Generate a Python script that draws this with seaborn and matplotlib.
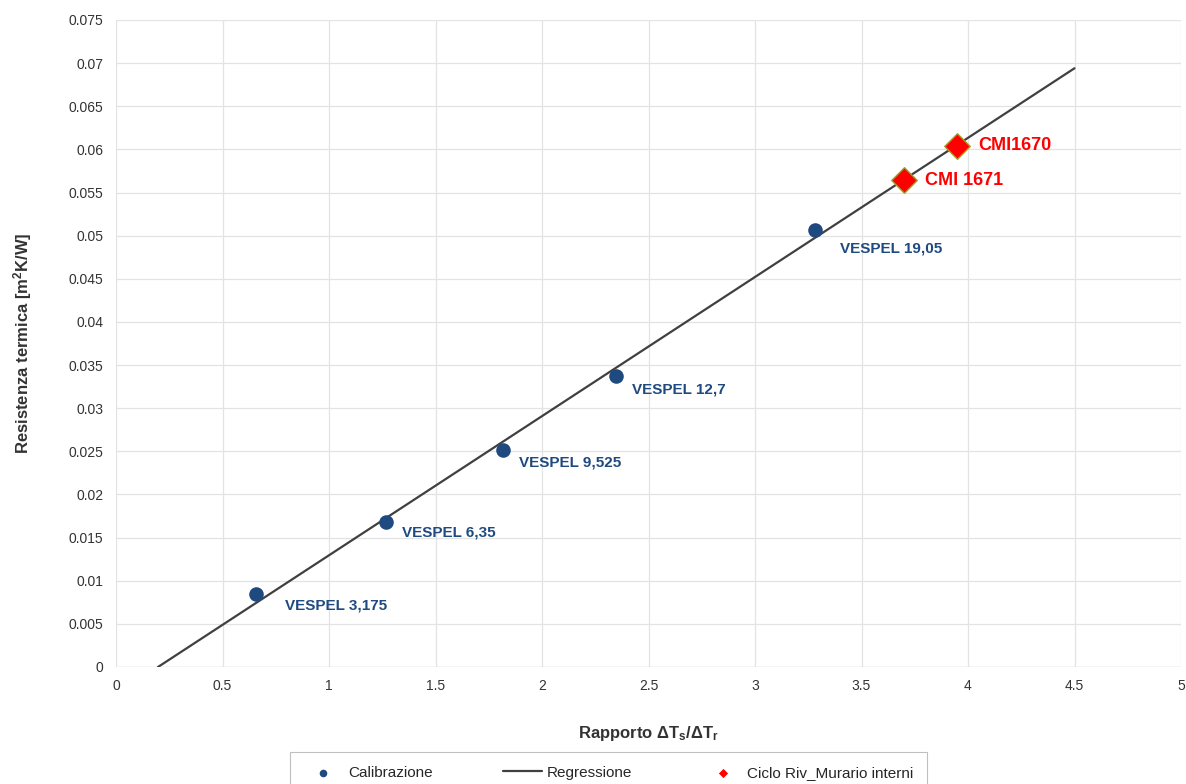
import matplotlib
matplotlib.use("Agg")
import matplotlib.pyplot as plt
import seaborn as sns
import numpy as np
import pandas as pd

# Data
calib_x = [0.657, 1.268, 1.817, 2.347, 3.28]
calib_y = [0.00846, 0.01681, 0.02515, 0.03373, 0.05066]
calib_labels = ["VESPEL 3,175", "VESPEL 6,35", "VESPEL 9,525", "VESPEL 12,7", "VESPEL 19,05"]
calib_offsets = [(29, -11), (16, -11), (16, -12), (16, -13), (25, -19)]

cmi_x = [3.70, 3.948]
cmi_y = [0.05645, 0.0604]
cmi_labels = ["CMI 1671", "CMI1670"]
cmi_offsets = [(21, 0), (21, 0)]

reg_slope = 0.01613
reg_intercept = -0.00318
reg_x = [0.197, 4.5]

x_ticks = [0, 0.5, 1, 1.5, 2, 2.5, 3, 3.5, 4, 4.5, 5]
y_ticks = [0, 0.005, 0.01, 0.015, 0.02, 0.025, 0.03, 0.035, 0.04, 0.045, 0.05,
           0.055, 0.06, 0.065, 0.07, 0.075]

sns.set_theme(style="white")
plt.rcParams['font.family'] = ['Liberation Sans', 'DejaVu Sans']
plt.rcParams['mathtext.fontset'] = 'custom'
plt.rcParams['mathtext.rm'] = 'Liberation Sans'
plt.rcParams['mathtext.bf'] = 'Liberation Sans:bold'
plt.rcParams['mathtext.it'] = 'Liberation Sans:italic'

fig = plt.figure(figsize=(11.86, 7.84), dpi=100)
ax = fig.add_axes([116/1186, 1-667/784, (1181-116)/1186, (667-20)/784])

navy = "#1f4a80"
red = "#ff0000"

reg_df = pd.DataFrame({"x": reg_x, "y": [reg_slope*v + reg_intercept for v in reg_x]})
sns.lineplot(data=reg_df, x="x", y="y", ax=ax, color="#404040", linewidth=1.6,
             label="Regressione", zorder=3)

cal_df = pd.DataFrame({"x": calib_x, "y": calib_y})
sns.scatterplot(data=cal_df, x="x", y="y", ax=ax, color=navy, s=110, edgecolor=navy,
                linewidth=0, marker="o", label="Calibrazione", zorder=4)

cmi_df = pd.DataFrame({"x": cmi_x, "y": cmi_y})
sns.scatterplot(data=cmi_df, x="x", y="y", ax=ax, color=red, s=170, edgecolor="#a0a030",
                linewidth=1.0, marker="D", label="Ciclo Riv_Murario interni", zorder=5)

for x, y, lab, off in zip(calib_x, calib_y, calib_labels, calib_offsets):
    ax.annotate(lab, (x, y), xytext=off, textcoords="offset pixels",
                ha="left", va="center", fontsize=11, fontweight="bold", color=navy)
for x, y, lab, off in zip(cmi_x, cmi_y, cmi_labels, cmi_offsets):
    ax.annotate(lab, (x, y), xytext=off, textcoords="offset pixels",
                ha="left", va="center", fontsize=13, fontweight="bold", color=red)

ax.set_xlim(0, 5)
ax.set_ylim(0, 0.075)
ax.set_xticks(x_ticks)
ax.set_xticklabels([f"{v:g}" for v in x_ticks])
ax.set_yticks(y_ticks)
ax.set_yticklabels([f"{v:g}" for v in y_ticks])
ax.tick_params(axis="both", length=0, labelsize=10, colors="#333333", pad=9)
ax.grid(True, color="#e3e3e3", linewidth=0.9)
for s in ax.spines.values():
    s.set_visible(False)
ax.axhline(0, color="#d0d0d0", linewidth=0.9, zorder=1)

ax.set_xlabel(r"Rapporto $\mathbf{\Delta T_s/\Delta T_r}$", fontsize=12, fontweight="bold",
              color="#333333", labelpad=22)
ax.set_ylabel("Resistenza termica [m$^\\mathbf{2}$K/W]", fontsize=12, fontweight="bold",
              color="#333333", labelpad=25)

handles, labels = ax.get_legend_handles_labels()
order = [labels.index("Calibrazione"), labels.index("Regressione"),
         labels.index("Ciclo Riv_Murario interni")]
leg = ax.legend([handles[i] for i in order], [labels[i] for i in order],
                loc="upper center", bbox_to_anchor=(0.513, 0.0408),
                bbox_transform=fig.transFigure, ncol=3, frameon=True, fancybox=False,
                fontsize=11, handlelength=2.6, handletextpad=0.3, columnspacing=4.6,
                borderpad=0.9, borderaxespad=0, edgecolor="#b0b0b0")
leg.get_frame().set_linewidth(0.8)
lh = leg.legend_handles
lh[0].set_sizes([30])
lh[2].set_sizes([22])
lh[2].set_linewidth(0)

fig.savefig("out.png", dpi=100)
